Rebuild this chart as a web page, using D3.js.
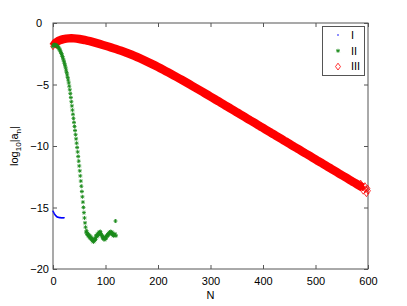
<!DOCTYPE html>
<html>
<head>
<meta charset="utf-8">
<script src="https://cdn.jsdelivr.net/npm/d3@7"></script>
<style>
  body { margin: 0; background: #fff; }
  svg text { font-family: "Liberation Sans", Arial, sans-serif; }
</style>
</head>
<body>
<div id="chart"></div>
<script>
// DATA
const xTicks = [0, 100, 200, 300, 400, 500, 600]
const yTicks = [0, -5, -10, -15, -20]

// series I : one value per N, N = 0..21
const seriesI = [-15.30, -15.38, -15.46, -15.54, -15.60, -15.66, -15.70, -15.74, -15.77, -15.79,
  -15.80, -15.81, -15.82, -15.82, -15.82, -15.83, -15.83, -15.83, -15.83, -15.83, -15.83, -15.83]

// series II : one value per N, N = 0..120
const seriesII = [-1.90, -1.80, -1.77, -1.77, -1.77, -1.79, -1.81, -1.84, -1.88, -1.92,
  -1.98, -2.04, -2.11, -2.20, -2.28, -2.38, -2.49, -2.60, -2.73, -2.86,
  -3.00, -3.15, -3.30, -3.47, -3.64, -3.83, -4.02, -4.22, -4.43, -4.64,
  -4.87, -5.14, -5.43, -5.74, -6.06, -6.40, -6.74, -7.08, -7.42, -7.75,
  -8.08, -8.41, -8.74, -9.08, -9.42, -9.77, -10.12, -10.48, -10.85, -11.23,
  -11.62, -12.02, -12.43, -12.85, -13.27, -13.70, -14.13, -14.56, -14.99, -15.42,
  -15.85, -16.25, -16.60, -17.00, -16.90, -17.20, -17.10, -17.30, -17.20, -17.40,
  -17.30, -17.50, -17.40, -17.60, -17.50, -17.70, -17.60, -17.80, -17.60, -17.70,
  -17.50, -17.60, -17.30, -17.40, -17.20, -17.30, -17.10, -17.20, -17.00, -17.10,
  -16.95, -17.10, -17.20, -17.30, -17.40, -17.50, -17.40, -17.60, -17.50, -17.60,
  -17.40, -17.50, -17.30, -17.35, -17.20, -17.25, -17.10, -17.15, -17.00, -17.10,
  -16.95, -17.10, -17.00, -17.20, -17.10, -17.30, -17.20, -17.25, -17.15, -16.10,
  -17.30]

// series III : N = 0, 5, 10, ... 600
const seriesIIIStep = 5
const seriesIII = [-1.90, -1.60, -1.46, -1.37, -1.31, -1.27, -1.25, -1.24, -1.25, -1.27,
  -1.30, -1.34, -1.38, -1.43, -1.48, -1.54, -1.60, -1.66, -1.72, -1.785,
  -1.85, -1.915, -1.98, -2.05, -2.12, -2.19, -2.265, -2.34, -2.42, -2.50,
  -2.585, -2.675, -2.765, -2.86, -2.955, -3.055, -3.155, -3.26, -3.365, -3.47,
  -3.58, -3.69, -3.80, -3.915, -4.03, -4.145, -4.26, -4.38, -4.50, -4.62,
  -4.74, -4.86, -4.98, -5.105, -5.23, -5.355, -5.48, -5.605, -5.73, -5.855,
  -5.98, -6.11, -6.24, -6.36, -6.49, -6.62, -6.75, -6.87, -7.00, -7.13,
  -7.26, -7.38, -7.51, -7.64, -7.77, -7.90, -8.02, -8.15, -8.28, -8.41,
  -8.53, -8.66, -8.79, -8.92, -9.04, -9.17, -9.30, -9.43, -9.56, -9.68,
  -9.81, -9.94, -10.07, -10.19, -10.32, -10.45, -10.58, -10.70, -10.83, -10.96,
  -11.09, -11.22, -11.34, -11.47, -11.60, -11.73, -11.85, -11.98, -12.11, -12.24,
  -12.37, -12.49, -12.62, -12.75, -12.88, -13.00, -13.13, -13.26, -13.39, -13.51,
  -13.64]
// a few scattered points at the tail of III
const tailN = [586, 591, 594, 597, 599]
const tailIII = [-13.05, -13.65, -13.25, -13.85, -13.45]

const legendLabels = ["I", "II", "III"]

const width = 407, height = 306
const margin = { left: 53, right: 39, top: 23, bottom: 37 }

const xScale = d3.scaleLinear().domain([0, 600]).range([margin.left, width - margin.right])
const yScale = d3.scaleLinear().domain([-20, 0]).range([height - margin.bottom, margin.top])

const svg = d3.select("#chart").append("svg")
  .attr("width", width).attr("height", height)

// markers
const diamond = "M0,-3.3L2.4,0L0,3.3L-2.4,0Z"
const legendDiamond = "M0,-3.4L2.5,0L0,3.4L-2.5,0Z"
const star = "M-2,0H2M0,-2V2M-1.4,-1.4L1.4,1.4M-1.4,1.4L1.4,-1.4"

// BOX
svg.append("rect")
  .attr("x", xScale(0)).attr("y", yScale(0))
  .attr("width", xScale(600) - xScale(0)).attr("height", yScale(-20) - yScale(0))
  .attr("fill", "none").attr("stroke", "#555").attr("stroke-width", 1)

// AXES
const axisStyle = g => {
  g.select(".domain").remove()
  g.selectAll(".tick line").attr("stroke", "#555")
  g.selectAll("text").attr("font-size", 11).attr("fill", "#000")
}
svg.append("g")
  .attr("transform", `translate(0,${yScale(-20)})`)
  .call(d3.axisBottom(xScale).tickValues(xTicks).tickSizeInner(-4).tickSizeOuter(0).tickPadding(8))
  .call(axisStyle)
svg.append("g")
  .attr("transform", `translate(0,${yScale(0)})`)
  .call(d3.axisTop(xScale).tickValues(xTicks).tickSizeInner(-4).tickSizeOuter(0).tickFormat(""))
  .call(axisStyle)
svg.append("g")
  .attr("transform", `translate(${xScale(0)},0)`)
  .call(d3.axisLeft(yScale).tickValues(yTicks).tickSizeInner(-4).tickSizeOuter(0).tickPadding(4)
    .tickFormat(d => d < 0 ? "\u2212" + Math.abs(d) : d))
  .call(axisStyle)
  .selectAll(".tick text").attr("dx", d => d === 0 ? -7 : 0)
svg.append("g")
  .attr("transform", `translate(${xScale(600)},0)`)
  .call(d3.axisRight(yScale).tickValues(yTicks).tickSizeInner(-4).tickSizeOuter(0).tickFormat(""))
  .call(axisStyle)

// axis labels
svg.append("text")
  .attr("x", xScale(300)).attr("y", 299)
  .attr("text-anchor", "middle").attr("font-size", 11).text("N")

const yLab = svg.append("text")
  .attr("transform", `translate(18,${(yScale(0) + yScale(-20)) / 2}) rotate(-90)`)
  .attr("text-anchor", "middle").attr("font-size", 11)
yLab.append("tspan").text("log")
yLab.append("tspan").attr("font-size", 8).attr("dy", 3).text("10")
yLab.append("tspan").attr("dy", -3).text("|a")
yLab.append("tspan").attr("font-size", 8).attr("dy", 3).text("n")
yLab.append("tspan").attr("dy", -3).text("|")

// PLOT
const plot = svg.append("g")

// III : dense diamonds merge into a solid band
const pts3 = seriesIII.map((v, i) => [i * seriesIIIStep, v])
plot.append("path")
  .datum(pts3.slice(0, pts3.length - 2))
  .attr("d", d3.line().x(d => xScale(d[0])).y(d => yScale(d[1])))
  .attr("fill", "none").attr("stroke", "#ff0000")
  .attr("stroke-width", 8.5).attr("stroke-linejoin", "round")
plot.selectAll("path.s3")
  .data(pts3.concat(tailN.map((n, i) => [n, tailIII[i]])))
  .join("path")
  .attr("class", "s3")
  .attr("d", diamond)
  .attr("transform", d => `translate(${xScale(d[0])},${yScale(d[1])})`)
  .attr("fill", (d, i) => i === 0 || i > seriesIII.length - 3 ? "none" : "#ff0000")
  .attr("stroke", "#ff0000").attr("stroke-width", 0.8)

// II
plot.selectAll("path.s2")
  .data(seriesII)
  .join("path")
  .attr("class", "s2")
  .attr("d", star)
  .attr("transform", (d, i) => `translate(${xScale(i)},${yScale(d)})`)
  .attr("fill", "none").attr("stroke", "#1a8a1a").attr("stroke-width", 0.9)

// I
plot.selectAll("circle.s1")
  .data(seriesI)
  .join("circle")
  .attr("class", "s1")
  .attr("cx", (d, i) => xScale(i)).attr("cy", d => yScale(d))
  .attr("r", 0.8).attr("fill", "#0000ff")

// LEGEND
const legend = svg.append("g")
legend.append("rect")
  .attr("x", 322.5).attr("y", 26.5).attr("width", 42).attr("height", 49)
  .attr("fill", "#fff").attr("stroke", "#555").attr("stroke-width", 1)
const rows = legend.selectAll("g.row")
  .data(legendLabels)
  .join("g")
  .attr("class", "row")
  .attr("transform", (d, i) => `translate(338,${35 + i * 15.8})`)
rows.append("text")
  .attr("x", 13).attr("dy", "0.35em").attr("font-size", 11).text(d => d)
rows.filter((d, i) => i === 0).append("circle").attr("r", 0.8).attr("fill", "#0000ff")
rows.filter((d, i) => i === 1).append("path").attr("d", star)
  .attr("fill", "none").attr("stroke", "#1a8a1a").attr("stroke-width", 0.9)
rows.filter((d, i) => i === 2).append("path").attr("d", legendDiamond)
  .attr("fill", "none").attr("stroke", "#ff0000").attr("stroke-width", 0.8)
</script>
</body>
</html>
